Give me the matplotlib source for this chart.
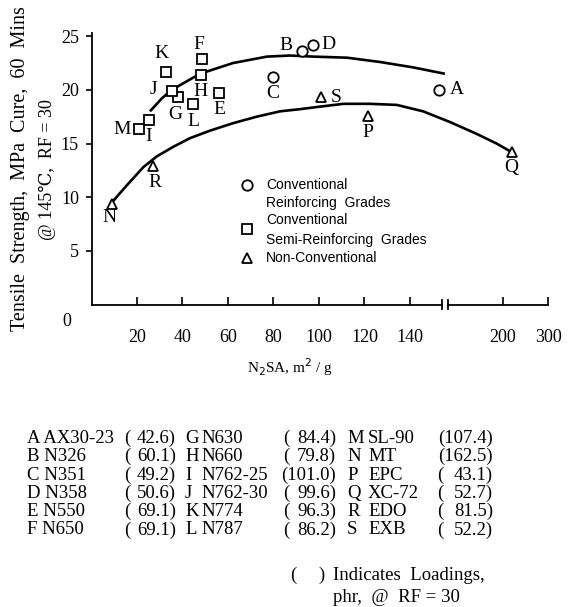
import numpy as np
import matplotlib
matplotlib.use('Agg')
import matplotlib.pyplot as plt
from matplotlib.lines import Line2D

plt.rcParams['font.family'] = ['Liberation Serif', 'DejaVu Serif', 'DejaVu Sans']

W, H = 570, 607

# Conventional reinforcing grades (circles)
conv_labels = ['A', 'B', 'C', 'D']
conv_x = [152.9, 92.4, 79.9, 97.5]
conv_y = [20.0, 23.6, 21.2, 24.2]

# Conventional semi-reinforcing grades (squares)
semi_labels = ['E', 'F', 'G', 'H', 'I', 'J', 'K', 'L', 'M']
semi_x = [56.2, 48.4, 38.2, 48.1, 25.3, 35.2, 32.8, 44.8, 21.0]
semi_y = [19.7, 22.9, 19.3, 21.4, 17.2, 19.9, 21.7, 18.7, 16.4]

# Non-conventional (triangles)
non_labels = ['N', 'P', 'Q', 'R', 'S']
non_x = [8.9, 121.7, 219.0, 27.2, 100.7]
non_y = [9.4, 17.6, 14.2, 12.9, 19.3]

# hand drawn trend curves
upper_x = [25.7, 30.9, 35.3, 47.7, 62.2, 77.1, 87.3, 97.4, 112.3, 126.8,
           141.3, 156.4]
upper_y = [18.0, 19.2, 20.0, 21.5, 22.5, 23.1, 23.2, 23.1, 23.0, 22.6,
           22.1, 21.5]
lower_x = [8.1, 15.5, 22.8, 28.7, 36.0, 43.3, 52.1, 62.3, 72.6, 82.9, 91.6,
           99.0, 110.7, 122.4, 134.2, 145.8, 160.2, 180.2, 195.2, 219.2]
lower_y = [9.3, 11.1, 12.8, 13.8, 14.7, 15.5, 16.2, 16.9, 17.5, 18.0, 18.2,
           18.4, 18.7, 18.7, 18.6, 18.0, 17.0, 15.9, 15.0, 14.2]

# legend table below the chart
tab_col1 = ['A AX30-23', 'B N326', 'C N351', 'D N358', 'E N550', 'F N650']
tab_load1 = ['42.6', '60.1', '49.2', '50.6', '69.1', '69.1']
tab_let2 = ['G', 'H', 'I', 'J', 'K', 'L']
tab_name2 = ['N630', 'N660', 'N762-25', 'N762-30', 'N774', 'N787']
tab_load2 = ['84.4', '79.8', '101.0', '99.6', '96.3', '86.2']
tab_let3 = ['M', 'N', 'P', 'Q', 'R', 'S']
tab_name3 = ['SL-90', 'MT', 'EPC', 'XC-72', 'EDO', 'EXB']
tab_load3 = ['107.4', '162.5', '43.1', '52.7', '81.5', '52.2']

xticks = [20, 40, 60, 80, 100, 120, 140, 200, 300]
yticks = [5, 10, 15, 20, 25]

# label offsets in points (dx, dy) from each marker
offs = {'A': (13, 0), 'B': (-11, 4), 'C': (0, -12), 'D': (11, 0),
        'E': (0, -12), 'F': (-2, 10), 'G': (-2, -12), 'H': (0, -12),
        'I': (0, -12), 'J': (-13, 1), 'K': (-3, 13), 'L': (0, -13),
        'M': (-12, -1), 'N': (-2, -10), 'P': (0, -12), 'Q': (0, -11),
        'R': (1, -12), 'S': (11, 0)}


# broken x axis: linear up to 154, compressed afterwards
def fwd(x):
    x = np.asarray(x, dtype=float)
    return np.where(x <= 154, x,
                    np.where(x <= 200, 154 + (x - 154) * 0.5848,
                             180.9 + (x - 200) * 0.198))


def inv(u):
    u = np.asarray(u, dtype=float)
    return np.where(u <= 154, u,
                    np.where(u <= 180.9, 154 + (u - 154) / 0.5848,
                             200 + (u - 180.9) / 0.198))


def fx(px):
    return px / W


def fy(py):
    return 1 - py / H


fig = plt.figure(figsize=(W / 100, H / 100), dpi=100)
fig.patch.set_facecolor('white')
ax = fig.add_axes([fx(91.5), fy(304.5), (548 - 91.5) / W, (304.5 - 33) / H])
ax.set_xscale('function', functions=(fwd, inv))
ax.set_xlim(0, 300)
ax.set_ylim(0, 25.3)

for s in ['top', 'right', 'bottom']:
    ax.spines[s].set_visible(False)
ax.spines['left'].set_linewidth(1.3)

# bottom axis line with the break marks
b1, b2 = (441.7 - 91.5) / 456.5, (448.3 - 91.5) / 456.5
kw = dict(transform=ax.transAxes, color='black', lw=1.3, clip_on=False)
ax.plot([0, b1], [0, 0], **kw)
ax.plot([b2, 1], [0, 0], **kw)
ax.plot([b1, b1], [-0.015, 0.015], **kw)
ax.plot([b2, b2], [-0.015, 0.015], **kw)

ax.set_xticks(xticks)
ax.set_xticklabels([str(t) for t in xticks])
ax.set_yticks(yticks)
ax.tick_params(axis='x', direction='in', length=6, width=1.2, pad=18,
               labelsize=13)
ax.tick_params(axis='y', direction='out', length=4, width=1.2, pad=5,
               labelsize=13)

ax.plot(upper_x, upper_y, color='black', lw=1.9, solid_capstyle='butt',
        solid_joinstyle='round')
ax.plot(lower_x, lower_y, color='black', lw=1.9, solid_capstyle='butt',
        solid_joinstyle='round')

mk = dict(linestyle='', markerfacecolor='white', markeredgecolor='black',
          markeredgewidth=1.3, zorder=3)
ax.plot(conv_x, conv_y, marker='o', markersize=7.5, **mk)
ax.plot(semi_x, semi_y, marker='s', markersize=6.5, **mk)
ax.plot(non_x, non_y, marker='^', markersize=7, **mk)

for labs, xs, ys in [(conv_labels, conv_x, conv_y),
                     (semi_labels, semi_x, semi_y),
                     (non_labels, non_x, non_y)]:
    for lab, x, y in zip(labs, xs, ys):
        ax.annotate(lab, (x, y), xytext=offs[lab], textcoords='offset points',
                    ha='center', va='center', fontsize=14)

# "0" at the origin corner
fig.text(fx(67), fy(322), '0', ha='center', va='center', fontsize=13)

# axis titles
fig.text(fx(21), fy(169), 'Tensile  Strength,  MPa  Cure,  60  Mins',
         rotation=90, ha='center', va='center', fontsize=14.5)
fig.text(fx(47), fy(170), '@ 145\u2103,  RF = 30', rotation=90,
         ha='center', va='center', fontsize=13)
fig.text(fx(290), fy(367), r'N$_2$SA, m$^2$ / g', ha='center', va='center',
         fontsize=11)

# legend
leg = [('o', 7.5, 185, ['Conventional', 'Reinforcing  Grades']),
       ('s', 6.5, 229, ['Conventional', 'Semi-Reinforcing  Grades']),
       ('^', 7, 258, ['Non-Conventional'])]
ty = [185, 203, 220, 240, 258]
k = 0
for m, ms, my, lines in leg:
    fig.add_artist(Line2D([fx(247)], [fy(my)], marker=m, markersize=ms,
                          transform=fig.transFigure, **mk))
    for t in lines:
        fig.text(fx(266), fy(ty[k]), t, ha='left', va='center', fontsize=10,
                 family=['Liberation Sans', 'DejaVu Sans'])
        k += 1

# table of grades and loadings
fs = 13.5


def loading(val, xl, xr, ry):
    # "(" sits at a fixed column, the number closes against ")"
    if len(val.split('.')[0]) >= 3:
        fig.text(fx(xr), fy(ry), '(' + val + ')', ha='right', va='center',
                 fontsize=fs)
    else:
        fig.text(fx(xl), fy(ry), '(', ha='left', va='center', fontsize=fs)
        fig.text(fx(xr), fy(ry), val + ')', ha='right', va='center',
                 fontsize=fs)


rows_y = [438.3, 456.7, 475, 493.3, 511.7, 530]
for i, ry in enumerate(rows_y):
    fig.text(fx(27), fy(ry), tab_col1[i], ha='left', va='center', fontsize=fs)
    loading(tab_load1[i], 124, 176, ry)
    fig.text(fx(185), fy(ry), tab_let2[i], ha='left', va='center', fontsize=fs)
    fig.text(fx(201), fy(ry), tab_name2[i], ha='left', va='center',
             fontsize=fs)
    loading(tab_load2[i], 283, 336, ry)
    fig.text(fx(347), fy(ry), tab_let3[i], ha='left', va='center', fontsize=fs)
    fig.text(fx(368), fy(ry), tab_name3[i], ha='left', va='center',
             fontsize=fs)
    loading(tab_load3[i], 437, 493, ry)

fig.text(fx(290), fy(575), '(', ha='left', va='center', fontsize=fs)
fig.text(fx(318), fy(575), ')', ha='left', va='center', fontsize=fs)
fig.text(fx(333), fy(575), 'Indicates  Loadings,', ha='left', va='center',
         fontsize=fs)
fig.text(fx(333), fy(598), 'phr,  @  RF = 30', ha='left', va='center',
         fontsize=fs)

fig.savefig('out.png', dpi=100)
